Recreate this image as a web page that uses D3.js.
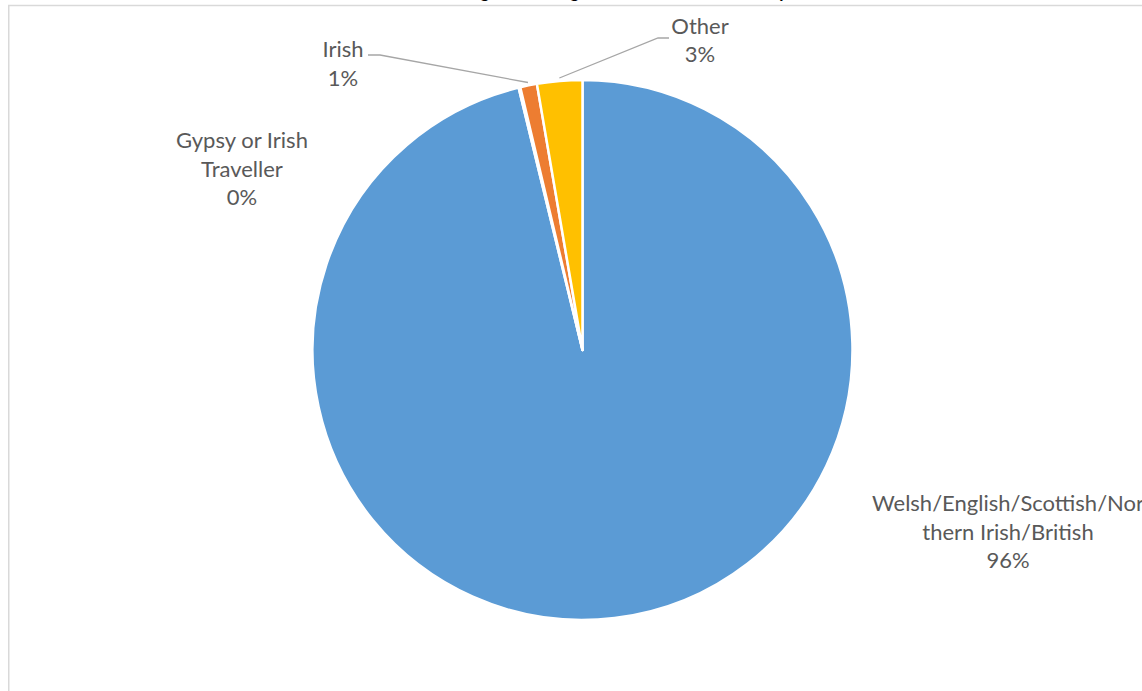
<!DOCTYPE html>
<html>
<head>
<meta charset="utf-8">
<script src="https://cdn.jsdelivr.net/npm/d3@7"></script>
<style>
  html, body { margin: 0; padding: 0; background: #ffffff; }
  svg { display: block; }
  text { font-family: Lato, "Open Sans", sans-serif; }
</style>
</head>
<body>
<svg id="chart" width="1142" height="691"></svg>
<script>
// Ethnic group breakdown (shares in percent, drawn clockwise from 12 o'clock)
const categories = [
  "Welsh/English/Scottish/Northern Irish/British",
  "Gypsy or Irish Traveller",
  "Irish",
  "Other"
];
const shares = [96.2, 0.1, 1.0, 2.7];
const sliceColors = ["#5B9BD5", "#A5A5A5", "#ED7D31", "#FFC000"];
// Category name as it wraps inside each data label
const labelLines = [
  ["Welsh/English/Scottish/Nor", "thern Irish/British"],
  ["Gypsy or Irish", "Traveller"],
  ["Irish"],
  ["Other"]
];
const chartTitle = "Young Carers Registered across the Country";

// Layout
const W = 1142, H = 691;
const cx = 582.5, cy = 350, R = 270;
const lineH = 28.5;
const labelFont = 22;
// label centre x, first baseline y, optional leader elbow (x, y) and tail end x
const labelLayout = [
  { x: 1008, y: 511 },
  { x: 242, y: 148 },
  { x: 343, y: 57, elbow: [380, 55], tail: 368 },
  { x: 700, y: 33.5, elbow: [658, 38], tail: 669 }
];

const svg = d3.select("#chart");

// chart area frame
svg.append("rect")
  .attr("x", 8.75).attr("y", 5.5)
  .attr("width", W + 20).attr("height", H + 20)
  .attr("fill", "#ffffff")
  .attr("stroke", "#D9D9D9")
  .attr("stroke-width", 1.5);

// title, sitting above the frame
const title = svg.append("text")
  .attr("x", 0).attr("y", -2)
  .attr("font-weight", "bold")
  .attr("font-size", 26)
  .attr("fill", "#000000")
  .text(chartTitle);
(function placeTitle() {
  const node = title.node();
  const i1 = chartTitle.indexOf("g");
  const i3 = chartTitle.lastIndexOf("y");
  const mid = i => { const e = node.getExtentOfChar(i); return e.x + e.width / 2; };
  const span = mid(i3) - mid(i1);
  title.attr("font-size", 26 * 298 / span);
  title.attr("x", 485 - mid(i1));
})();

const data = shares.map((v, i) => ({
  name: categories[i], value: v, color: sliceColors[i],
  lines: labelLines[i], layout: labelLayout[i]
}));

const pie = d3.pie().sort(null).value(d => d.value);
const arcs = pie(data);
const arc = d3.arc().innerRadius(0).outerRadius(R);

const g = svg.append("g").attr("transform", `translate(${cx},${cy})`);

g.selectAll("path.slice")
  .data(arcs)
  .join("path")
  .attr("class", "slice")
  .attr("d", arc)
  .attr("fill", d => d.data.color)
  .attr("stroke", "#ffffff")
  .attr("stroke-width", 2.5)
  .attr("stroke-linejoin", "round");

// leader lines for the thin slices
const pct = d3.format(".0%");
arcs.forEach(a => {
  const L = a.data.layout;
  if (!L.elbow) return;
  const ang = (a.startAngle + a.endAngle) / 2;
  const r0 = R + 3;
  const p0 = [cx + r0 * Math.sin(ang), cy - r0 * Math.cos(ang)];
  svg.append("polyline")
    .attr("points", [p0, L.elbow, [L.tail, L.elbow[1]]].map(p => p.join(",")).join(" "))
    .attr("fill", "none")
    .attr("stroke", "#A6A6A6")
    .attr("stroke-width", 1.3);
});

// data labels: category name then percentage
arcs.forEach(a => {
  const L = a.data.layout;
  const t = svg.append("text")
    .attr("text-anchor", "middle")
    .attr("font-size", labelFont)
    .attr("fill", "#595959");
  const lines = a.data.lines.concat([pct(a.data.value / 100)]);
  lines.forEach((s, k) => {
    t.append("tspan").attr("x", L.x).attr("y", L.y + k * lineH).text(s);
  });
});
</script>
</body>
</html>
